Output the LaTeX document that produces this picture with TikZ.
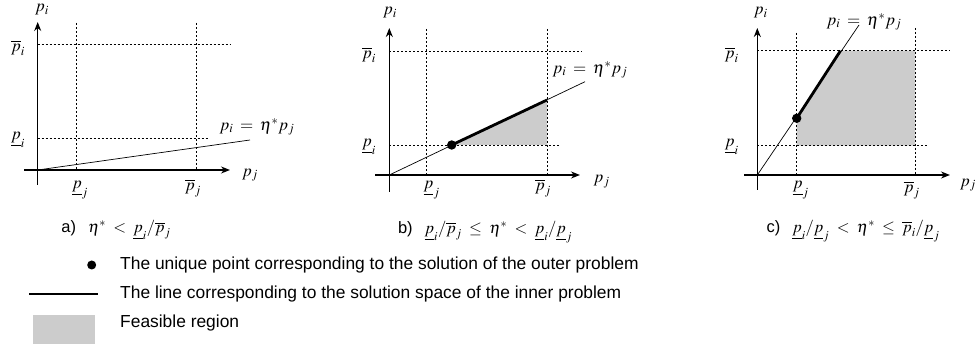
\documentclass[tikz,border=0pt]{standalone}
\usepackage{mathptmx}
\usepackage[no-math]{fontspec}
\setmainfont{Liberation Sans}
\usetikzlibrary{arrows.meta}
\definecolor{feas}{RGB}{204,204,204}
\newcommand{\capgap}{\hspace{12pt}}
\newcommand{\labfont}{\fontsize{17}{19}\selectfont\thickmuskip=7mu\relax}
\newcommand{\capfont}{\fontsize{16.5}{19}\selectfont\thickmuskip=8mu\relax}
\begin{document}
\begin{tikzpicture}[x=1pt,y=-1pt,
  axis/.style={line width=1.4pt,-{Stealth[length=9pt,width=7pt]}},
  guide/.style={dash pattern=on 2pt off 2pt, line width=0.6pt},
  ray/.style={line width=0.7pt},
  sol/.style={line width=2.8pt},
  region/.style={fill=feas, draw=none},
  lab/.style={font=\labfont, inner sep=0pt},
  captext/.style={font=\capfont, inner sep=0pt},
  leg/.style={font=\fontsize{17.4}{19}\selectfont, inner sep=0pt, anchor=west}]
\useasboundingbox (0,0) rectangle (979,344);

% ---------- panel a ----------
\coordinate (a-o) at (37.7,170);
\coordinate (a-yb) at (37.7,185);
\coordinate (a-yt) at (37.7,22);
\coordinate (a-xl) at (24,170);
\coordinate (a-xr) at (230,170);
\coordinate (a-pi1) at (37.7,44.3); \coordinate (a-pi2) at (230,44.3);
\coordinate (a-qi1) at (37.7,138);  \coordinate (a-qi2) at (208,138);
\coordinate (a-qj1) at (76,23);     \coordinate (a-qj2) at (76,170);
\coordinate (a-pj1) at (196,23);    \coordinate (a-pj2) at (196,170);
\coordinate (a-end) at (250,140);
\draw[guide] (a-pi1) -- (a-pi2);
\draw[guide] (a-qi1) -- (a-qi2);
\draw[guide] (a-qj1) -- (a-qj2);
\draw[guide] (a-pj1) -- (a-pj2);
\draw[axis] (a-yb) -- (a-yt);
\draw[axis] (a-xl) -- (a-xr);
\draw[ray] (a-o) -- (a-end);
\node[lab] (a-lpi) at (42,10) {$p_i$};
\node[lab] (a-lbpi) at (18,48) {$\overline{p}_i$};
\node[lab] (a-lupi) at (18,140) {$\underline{p}_i$};
\node[lab] (a-lupj) at (80,190) {$\underline{p}_j$};
\node[lab] (a-lbpj) at (193,188) {$\overline{p}_j$};
\node[lab] (a-lpj) at (250,175) {$p_j$};
\node[lab] (a-eq) at (257,127) {$p_i=\eta^*p_j$};
\node[captext] (a-cap) at (116,230) {a)\capgap$\eta^*<\underline{p}_i/\overline{p}_j$};

% ---------- panel b ----------
\coordinate (b-o) at (389.3,175);
\coordinate (b-yb) at (389.3,192);
\coordinate (b-yt) at (389.3,28);
\coordinate (b-xl) at (375,175);
\coordinate (b-xr) at (580,175);
\coordinate (b-pi1) at (389.3,51.7); \coordinate (b-pi2) at (582,51.7);
\coordinate (b-qi1) at (389.3,145);  \coordinate (b-qi2) at (560,145);
\coordinate (b-qj1) at (426.7,29);   \coordinate (b-qj2) at (426.7,175);
\coordinate (b-pj1) at (547,29);     \coordinate (b-pj2) at (547,175);
\coordinate (b-end) at (585,81.7);
\coordinate (b-dot) at (451.7,145);
\coordinate (b-top) at (547,100);
\coordinate (b-cor) at (547,145);
\fill[region] (b-dot) -- (b-top) -- (b-cor) -- cycle;
\draw[guide] (b-pi1) -- (b-pi2);
\draw[guide] (b-qi1) -- (b-qi2);
\draw[guide] (b-qj1) -- (b-qj2);
\draw[guide] (b-pj1) -- (b-pj2);
\draw[axis] (b-yb) -- (b-yt);
\draw[axis] (b-xl) -- (b-xr);
\draw[ray] (b-o) -- (b-end);
\draw[sol] (b-dot) -- (b-top);
\fill (b-dot) circle (4.7);
\node[lab] (b-lpi) at (390,13) {$p_i$};
\node[lab] (b-lbpi) at (369,55) {$\overline{p}_i$};
\node[lab] (b-lupi) at (369,147) {$\underline{p}_i$};
\node[lab] (b-lupj) at (431.7,190) {$\underline{p}_j$};
\node[lab] (b-lbpj) at (543,188) {$\overline{p}_j$};
\node[lab] (b-lpj) at (601.7,181.7) {$p_j$};
\node[lab] (b-eq) at (590,70) {$p_i=\eta^*p_j$};
\node[captext] (b-cap) at (485,232) {b)\capgap$\underline{p}_i/\overline{p}_j\le\eta^*<\underline{p}_i/\underline{p}_j$};

% ---------- panel c ----------
\coordinate (c-o) at (757.3,175);
\coordinate (c-yb) at (757.3,190);
\coordinate (c-yt) at (757.3,28);
\coordinate (c-xl) at (744,175);
\coordinate (c-xr) at (950,175);
\coordinate (c-pi1) at (757.3,50.7); \coordinate (c-pi2) at (950,50.7);
\coordinate (c-qi1) at (757.3,145.7); \coordinate (c-qi2) at (928,145.7);
\coordinate (c-qj1) at (796.7,33);    \coordinate (c-qj2) at (796.7,175);
\coordinate (c-pj1) at (915,28);      \coordinate (c-pj2) at (915,175);
\coordinate (c-end) at (859,25);
\coordinate (c-dot) at (796.7,118.3);
\coordinate (c-top) at (840.5,50.7);
\coordinate (c-r1) at (915,50.7);
\coordinate (c-r2) at (915,145.7);
\coordinate (c-r3) at (796.7,145.7);
\fill[region] (c-dot) -- (c-top) -- (c-r1) -- (c-r2) -- (c-r3) -- cycle;
\draw[guide] (c-pi1) -- (c-pi2);
\draw[guide] (c-qi1) -- (c-qi2);
\draw[guide] (c-qj1) -- (c-qj2);
\draw[guide] (c-pj1) -- (c-pj2);
\draw[axis] (c-yb) -- (c-yt);
\draw[axis] (c-xl) -- (c-xr);
\draw[ray] (c-o) -- (c-end);
\draw[sol] (c-dot) -- (c-top);
\fill (c-dot) circle (4.7);
\node[lab] (c-lpi) at (760.7,13) {$p_i$};
\node[lab] (c-lbpi) at (731.7,55) {$\overline{p}_i$};
\node[lab] (c-lupi) at (731.7,147) {$\underline{p}_i$};
\node[lab] (c-lupj) at (800.7,190) {$\underline{p}_j$};
\node[lab] (c-lbpj) at (911.7,190) {$\overline{p}_j$};
\node[lab] (c-lpj) at (968,185) {$p_j$};
\node[lab] (c-eq) at (864,22) {$p_i=\eta^*p_j$};
\node[captext] (c-cap) at (853,231) {c)\capgap$\underline{p}_i/\underline{p}_j<\eta^*\le\overline{p}_i/\underline{p}_j$};

% ---------- legend ----------
\coordinate (l-dot) at (91.7,265);
\coordinate (l-l1) at (29,294); \coordinate (l-l2) at (98,294);
\fill (l-dot) circle (4.5);
\draw[sol] (l-l1) -- (l-l2);
\fill[region] (33,315) rectangle (95,344);
\node[leg] (l-t1) at (120,265) {The unique point corresponding to the solution of the outer problem};
\node[leg] (l-t2) at (120,294) {The line corresponding to the solution space of the inner problem};
\node[leg] (l-t3) at (120,323) {Feasible region};
\end{tikzpicture}
\end{document}
